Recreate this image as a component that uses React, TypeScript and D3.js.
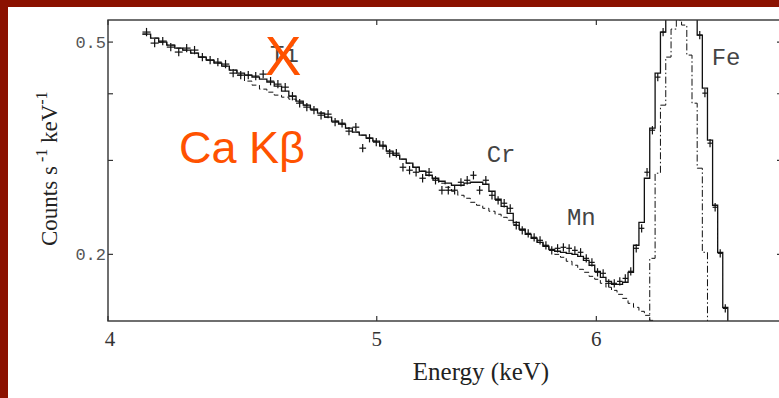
import React from 'react';
import * as d3 from 'd3';

// Spectral bin centres (keV)
const energies = [
  4.130, 4.158, 4.186, 4.214, 4.242, 4.270, 4.298, 4.326, 4.354, 4.382,
  4.410, 4.438, 4.466, 4.494, 4.522, 4.550, 4.578, 4.606, 4.634, 4.662,
  4.690, 4.718, 4.746, 4.774, 4.802, 4.830, 4.858, 4.886, 4.914, 4.942,
  4.970, 4.998, 5.026, 5.054, 5.082, 5.110, 5.138, 5.166, 5.194, 5.222,
  5.250, 5.278, 5.306, 5.334, 5.362, 5.390, 5.418, 5.446, 5.474, 5.502,
  5.530, 5.558, 5.586, 5.614, 5.642, 5.670, 5.698, 5.726, 5.754, 5.782,
  5.810, 5.838, 5.866, 5.894, 5.922, 5.950, 5.978, 6.006, 6.034, 6.062,
  6.090, 6.118, 6.146, 6.174, 6.202, 6.230, 6.258, 6.286, 6.314, 6.342,
  6.370, 6.398, 6.426, 6.454, 6.482, 6.510, 6.538, 6.566, 6.594, 6.622,
  6.650, 6.678,
];
const binHalfWidth = 0.014;

// Observed counts s^-1 keV^-1
const dataCounts = [
  0.5221, 0.4978, 0.5022, 0.4893, 0.4789, 0.4872, 0.4830, 0.4686, 0.4626, 0.4586,
  0.4547, 0.4373, 0.4335, 0.4335, 0.4317, 0.4354, 0.4225, 0.4170, 0.4116, 0.3959,
  0.3841, 0.3776, 0.3727, 0.3647, 0.3663, 0.3539, 0.3523, 0.3404, 0.3463, 0.3163,
  0.3302, 0.3246, 0.3204, 0.3095, 0.3095, 0.2913, 0.2876, 0.2851, 0.2778, 0.2851,
  0.2754, 0.2638, 0.2638, 0.2638, 0.2730, 0.2754, 0.2814, 0.2638, 0.2754, 0.2581,
  0.2526, 0.2494, 0.2440, 0.2267, 0.2219, 0.2190, 0.2153, 0.2125, 0.2080, 0.2035,
  0.2053, 0.2062, 0.2053, 0.2035, 0.2018, 0.1966, 0.1932, 0.1851, 0.1843, 0.1765,
  0.1765, 0.1780, 0.1803, 0.1859, 0.2053, 0.2238, 0.2851, 0.3418, 0.4298, 0.5221,
  0.70, 0.86, 0.99, 0.96, 0.84, 0.67, 0.5154, 0.4011, 0.3232, 0.2451,
  0.2009, 0.1584,
];
const relErr = 0.018;

// Total model (solid histogram)
const modelTotal = [
  0.5176, 0.5087, 0.5000, 0.4936, 0.4872, 0.4830, 0.4768, 0.4686, 0.4626, 0.4566,
  0.4507, 0.4430, 0.4373, 0.4335, 0.4298, 0.4261, 0.4206, 0.4134, 0.4046, 0.3959,
  0.3875, 0.3808, 0.3743, 0.3679, 0.3616, 0.3554, 0.3508, 0.3448, 0.3389, 0.3345,
  0.3302, 0.3260, 0.3190, 0.3122, 0.3068, 0.3016, 0.2964, 0.2913, 0.2863, 0.2814,
  0.2778, 0.2742, 0.2719, 0.2695, 0.2695, 0.2719, 0.2730, 0.2730, 0.2707, 0.2626,
  0.2537, 0.2461, 0.2388, 0.2297, 0.2229, 0.2181, 0.2144, 0.2107, 0.2071, 0.2044,
  0.2027, 0.2018, 0.2009, 0.2000, 0.1983, 0.1949, 0.1908, 0.1859, 0.1811, 0.1780,
  0.1757, 0.1757, 0.1773, 0.1851, 0.2080, 0.2297, 0.2778, 0.3448, 0.4373, 0.5221,
  0.68, 0.85, 0.98, 0.97, 0.83, 0.66, 0.5154, 0.4099, 0.3274, 0.2472,
  0.2018, 0.1591,
];

// Continuum-only model (dashed), bins 0..78
const modelContinuum = [
  0.5176, 0.5087, 0.5000, 0.4936, 0.4872, 0.4830, 0.4768, 0.4686, 0.4626, 0.4566,
  0.4507, 0.4430, 0.4335, 0.4225, 0.4152, 0.4081, 0.4028, 0.3977, 0.3942, 0.3908,
  0.3858, 0.3808, 0.3743, 0.3679, 0.3616, 0.3554, 0.3508, 0.3448, 0.3389, 0.3345,
  0.3302, 0.3260, 0.3190, 0.3122, 0.3068, 0.3016, 0.2964, 0.2913, 0.2863, 0.2814,
  0.2766, 0.2719, 0.2672, 0.2626, 0.2581, 0.2548, 0.2504, 0.2472, 0.2440, 0.2409,
  0.2378, 0.2347, 0.2317, 0.2277, 0.2229, 0.2181, 0.2144, 0.2107, 0.2071, 0.2035,
  0.2000, 0.1975, 0.1941, 0.1908, 0.1875, 0.1851, 0.1819, 0.1796, 0.1765, 0.1735,
  0.1712, 0.1683, 0.1654, 0.1619, 0.1591, 0.1564, 0.1537, 0.1504, 0.1472,
];

// Fe K line component (dash-dot), starting at bin 76
const ironStartBin = 76;
const ironLine = [
  0.12, 0.1966, 0.2839, 0.3808, 0.4686, 0.5289, 0.5499, 0.5381, 0.4727, 0.3841,
  0.2901, 0.2018, 0.12,
];

const xTicks = [4, 5, 6];
const yTicks = [0.2, 0.3, 0.4, 0.5];
const yTickLabels = ['0.2', '', '', '0.5'];

const lineLabels = ['Ti', 'Cr', 'Mn', 'Fe'];
const lineLabelEnergy = [4.576, 5.478, 5.855, 6.603];
const lineLabelValue = [0.4586, 0.2977, 0.2268, 0.4527];

const W = 779;
const H = 398;
const M = { left: 108, right: 782, top: 20, bottom: 321 };

export default function App() {
  const x = d3.scaleLog().domain([4, 7]).range([M.left, M.right]);
  const y = d3.scaleLog().domain([0.15, 0.55]).range([M.bottom, M.top]);

  const line = d3.line<[number, number]>().x((d) => d[0]).y((d) => d[1]);

  const stepPts = (start: number, vals: number[], dropEnd: boolean) => {
    const pts: [number, number][] = [];
    vals.forEach((v, k) => {
      const e = energies[start + k];
      pts.push([x(e - binHalfWidth), y(v)], [x(e + binHalfWidth), y(v)]);
      if (k === vals.length - 1 && dropEnd) pts.push([x(e + binHalfWidth), M.bottom + 2]);
    });
    return pts;
  };

  const serif = "'Liberation Serif', 'Times New Roman', Times, serif";
  const mono = "'Liberation Mono', 'Courier New', monospace";
  const sans = "'Liberation Sans', Arial, sans-serif";
  const orange = '#ff5200';

  return (
    <svg width={W} height={H} style={{ position: 'absolute', left: 0, top: 0, background: '#fff' }}>
      <rect x={0} y={0} width={W} height={H} fill="#ffffff" />
      <rect x={0} y={0} width={W} height={7} fill="#8b1100" />
      <rect x={0} y={0} width={8} height={H} fill="#8b1100" />

      <defs>
        <clipPath id="plotClip">
          <rect x={M.left} y={M.top} width={M.right - M.left} height={M.bottom - M.top} />
        </clipPath>
      </defs>

      <g clipPath="url(#plotClip)">
        <path d={line(stepPts(0, modelContinuum, false)) || ''} fill="none" stroke="#111" strokeWidth={1} strokeDasharray="5,3" />
        <path d={line(stepPts(ironStartBin, ironLine, false)) || ''} fill="none" stroke="#111" strokeWidth={1} strokeDasharray="7,2.5,1.5,2.5" />
        <path d={line(stepPts(0, modelTotal, true)) || ''} fill="none" stroke="#111" strokeWidth={1.3} />
        {dataCounts.map((v, i) => {
          const e = energies[i];
          const cx = x(e);
          return (
            <g key={i} stroke="#111" strokeWidth={1.2}>
              <line x1={x(e - binHalfWidth)} x2={x(e + binHalfWidth)} y1={y(v)} y2={y(v)} />
              <line x1={cx} x2={cx} y1={y(v * (1 - relErr))} y2={y(v * (1 + relErr))} />
            </g>
          );
        })}
      </g>

      {/* frame */}
      <rect x={M.left} y={M.top} width={M.right - M.left} height={M.bottom - M.top} fill="none" stroke="#333" strokeWidth={1.4} />

      {/* x ticks */}
      {xTicks.map((t) => (
        <g key={'xt' + t}>
          <line x1={x(t)} x2={x(t)} y1={M.bottom} y2={M.bottom - 5} stroke="#333" strokeWidth={1.2} />
          <line x1={x(t)} x2={x(t)} y1={M.top} y2={M.top + 5} stroke="#333" strokeWidth={1.2} />
          <text x={x(t) + (t === 4 ? 2 : 0)} y={346} textAnchor="middle" fontFamily={serif} fontSize={21} fill="#333">
            {t}
          </text>
        </g>
      ))}

      {/* y ticks */}
      {yTicks.map((t, i) => (
        <g key={'yt' + t}>
          <line x1={M.left} x2={M.left + 5} y1={y(t)} y2={y(t)} stroke="#333" strokeWidth={1.2} />
          <line x1={M.right} x2={M.right - 5} y1={y(t)} y2={y(t)} stroke="#333" strokeWidth={1.2} />
          {yTickLabels[i] && (
            <text x={M.left - 2} y={y(t) + 5.5} textAnchor="end" fontFamily={mono} fontSize={17} fill="#555">
              {yTickLabels[i]}
            </text>
          )}
        </g>
      ))}

      {/* axis titles */}
      <text x={481} y={380} textAnchor="middle" fontFamily={serif} fontSize={25} fill="#222">
        Energy (keV)
      </text>
      <text transform="translate(57,246) rotate(-90)" fontFamily={serif} fontSize={23} fill="#222">
        Counts s
        <tspan dy={-10} fontSize={16}> -1</tspan>
        <tspan dy={10}> keV</tspan>
        <tspan dy={-10} fontSize={16}>-1</tspan>
      </text>

      {/* line labels */}
      {lineLabels.map((t, i) => (
        <text key={t} x={x(lineLabelEnergy[i])} y={y(lineLabelValue[i])} fontFamily={mono} fontSize={24} fill="#444">
          {t}
        </text>
      ))}

      {/* slide annotations */}
      <text x={283} y={75} textAnchor="middle" fontFamily={sans} fontSize={55} fill={orange}>
        X
      </text>
      <text x={179} y={163} fontFamily={sans} fontSize={45} fill={orange}>
        Ca Kβ
      </text>
    </svg>
  );
}
